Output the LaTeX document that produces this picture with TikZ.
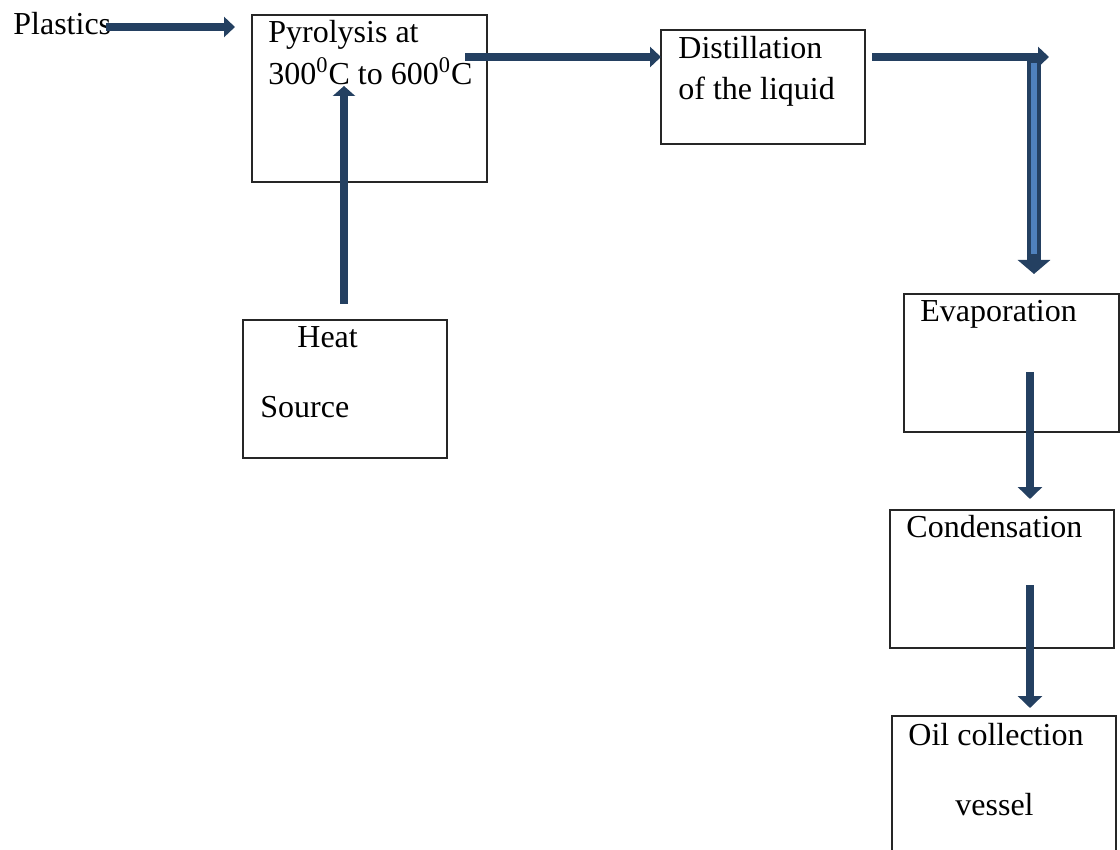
\documentclass[tikz,border=0pt]{standalone}
\usepackage{fontspec}
\setmainfont{Liberation Serif}
\usetikzlibrary{arrows.meta}
\definecolor{flownavy}{RGB}{36,64,97}
\definecolor{flowblue}{RGB}{79,129,189}
\tikzstyle{pbox}=[draw=black!85,line width=0.8pt,inner sep=0pt]
\tikzstyle{lbl}=[anchor=base west,inner sep=0pt,font=\fontsize{16}{19}\selectfont]
\tikzstyle{flow}=[-{Triangle[width=10pt,length=5.5pt]}, line width=4.2pt, draw=flownavy]
\tikzstyle{bigflow}=[-{Triangle[width=16pt,length=7pt]}, line width=7pt, draw=flownavy]

\begin{document}
\begin{tikzpicture}[x=0.5pt,y=-0.5pt]
\clip (0,0) rectangle (1120,850);
% boxes
\node[pbox,minimum width=117.5pt,minimum height=83.5pt] (pyro) at (369.5,98.5) {};
\node[pbox,minimum width=102pt,minimum height=69pt] (heat) at (345,389) {};
\node[pbox,minimum width=102pt,minimum height=57pt] (dist) at (763,87) {};
\node[pbox,minimum width=107.5pt,minimum height=69pt] (evap) at (1011.5,363) {};
\node[pbox,minimum width=112pt,minimum height=69pt] (cond) at (1002,579) {};
\node[pbox,minimum width=112pt,minimum height=82pt] (oil) at (1004,798) {};
% texts
\node[lbl] (plastics) at (13,35) {Plastics};
\node[lbl] (pyroA) at (268,43) {Pyrolysis at};
\node[lbl] (pyroB) at (268,85) {300\textsuperscript{0}C to 600\textsuperscript{0}C};
\node[lbl] (distA) at (678,59) {Distillation};
\node[lbl] (distB) at (678,100) {of the liquid};
\node[lbl] (heatA) at (297,348) {Heat};
\node[lbl] (heatB) at (260,417) {Source};
\node[lbl] (evapT) at (920,322) {Evaporation};
\node[lbl] (condT) at (906,538) {Condensation};
\node[lbl] (oilA) at (908,745) {Oil collection};
\node[lbl] (oilB) at (955,815) {vessel};
% arrow ends
\coordinate (plIn) at (106,27);   \coordinate (plOut) at (235,27);
\coordinate (pyIn) at (465,57);   \coordinate (pyOut) at (661,57);
\coordinate (htIn) at (344,304);  \coordinate (htOut) at (344,86);
\coordinate (dsIn) at (872,57);   \coordinate (dsOut) at (1049,57);
\coordinate (dnIn) at (1034,57);  \coordinate (dnOut) at (1034,274);
\coordinate (evIn) at (1030,372); \coordinate (evOut) at (1030,499);
\coordinate (cdIn) at (1030,585); \coordinate (cdOut) at (1030,708);
% connectors
\draw[flow] (plIn)--(plOut);
\draw[flow] (pyIn)--(pyOut);
\draw[flow,-{Triangle[width=11pt,length=5pt]}] (htIn)--(htOut);
\draw[flow] (dsIn)--(dsOut);
\draw[bigflow] (dnIn)--(dnOut);
\draw[line width=2.6pt,flowblue] ([yshift=-3pt]dnIn)--([yshift=10pt]dnOut);
\draw[flow,-{Triangle[width=12pt,length=6pt]}] (evIn)--(evOut);
\draw[flow,-{Triangle[width=12pt,length=6pt]}] (cdIn)--(cdOut);
\end{tikzpicture}
\end{document}
